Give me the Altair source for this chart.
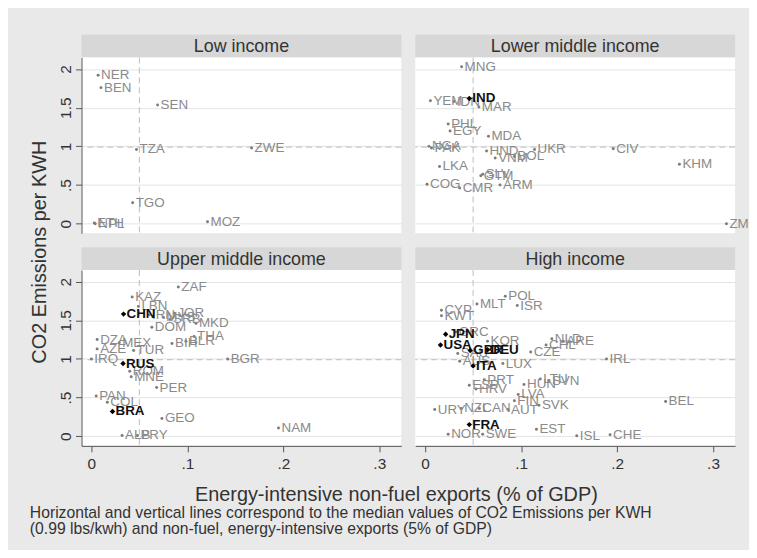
import altair as alt
import pandas as pd

# ---------------- data ----------------
low_codes = ["NER", "BEN", "SEN", "TZA", "ZWE", "TGO", "ETH", "NPL", "MOZ"]
low_x = [0.007, 0.010, 0.069, 0.047, 0.167, 0.043, 0.003, 0.004, 0.121]
low_y = [1.92, 1.76, 1.535, 0.96, 0.98, 0.27, 0.01, 0.0, 0.025]

lmi_codes = ["MNG", "YEM", "IDN", "IND", "MAR", "PHL", "EGY", "MDA", "NGA", "PAK",
             "HND", "UKR", "VNM", "BOL", "CIV", "KHM", "LKA", "GTM", "SLV", "COG",
             "CMR", "ARM", "ZMB"]
lmi_x = [0.038, 0.0055, 0.030, 0.046, 0.056, 0.024, 0.026, 0.066, 0.004, 0.0066,
         0.064, 0.114, 0.073, 0.093, 0.196, 0.265, 0.015, 0.058, 0.060, 0.002,
         0.036, 0.078, 0.314]
lmi_y = [2.03, 1.59, 1.58, 1.62, 1.51, 1.29, 1.20, 1.13, 1.00, 0.98,
         0.94, 0.96, 0.85, 0.87, 0.97, 0.77, 0.74, 0.62, 0.64, 0.51,
         0.46, 0.50, 0.0]

umi_codes = ["ZAF", "KAZ", "LBN", "CHN", "IRN", "JOR", "MYS", "SRB", "MKD", "DOM",
             "THA", "BIH", "BLR", "DZA", "AZE", "MEX", "TUR", "IRQ", "RUS", "BGR",
             "ROM", "MNE", "PER", "PAN", "COL", "BRA", "GEO", "NAM", "ALB", "PRY"]
umi_x = [0.0906, 0.0425, 0.049, 0.0335, 0.060, 0.0865, 0.075, 0.082, 0.109, 0.063,
         0.107, 0.084, 0.0985, 0.006, 0.006, 0.029, 0.044, 0.0, 0.033, 0.142,
         0.040, 0.0415, 0.068, 0.005, 0.0166, 0.022, 0.0735, 0.195, 0.032, 0.048]
umi_y = [1.93, 1.80, 1.68, 1.58, 1.57, 1.59, 1.54, 1.51, 1.46, 1.41,
         1.29, 1.20, 1.23, 1.25, 1.13, 1.21, 1.11, 1.0, 0.94, 1.0,
         0.84, 0.77, 0.63, 0.52, 0.44, 0.32, 0.23, 0.107, 0.01, 0.01]

hi_codes = ["POL", "MLT", "ISR", "CYP", "KWT", "GRC", "JPN", "KOR", "USA", "GBR",
            "DEU", "SAU", "AUS", "ITA", "LUX", "CZE", "NLD", "CHL", "ARE", "IRL",
            "PRT", "ESP", "HRV", "HUN", "LTU", "SVN", "LVA", "FIN", "SVK", "AUT",
            "URY", "NZL", "CAN", "FRA", "NOR", "SWE", "EST", "ISL", "CHE", "BEL"]
hi_x = [0.0835, 0.054, 0.096, 0.017, 0.017, 0.032, 0.0214, 0.065, 0.016, 0.047,
        0.065, 0.034, 0.036, 0.050, 0.081, 0.110, 0.132, 0.126, 0.144, 0.189,
        0.0617, 0.046, 0.053, 0.103, 0.120, 0.129, 0.097, 0.093, 0.1186, 0.0865,
        0.010, 0.0376, 0.0565, 0.046, 0.024, 0.060, 0.116, 0.158, 0.1927, 0.2506]
hi_y = [1.81, 1.71, 1.69, 1.63, 1.56, 1.35, 1.32, 1.23, 1.18, 1.11,
        1.12, 1.07, 0.97, 0.91, 0.94, 1.09, 1.26, 1.18, 1.23, 1.0,
        0.73, 0.66, 0.61, 0.67, 0.74, 0.72, 0.54, 0.46, 0.40, 0.345,
        0.345, 0.36, 0.36, 0.15, 0.025, 0.025, 0.09, 0.005, 0.02, 0.45]

highlight = ["IND", "CHN", "RUS", "BRA", "JPN", "USA", "GBR", "DEU", "ITA", "FRA"]
median_x = [0.05]
median_y = [0.99]
x_ticks = [0, 0.1, 0.2, 0.3]
y_ticks = [0, 0.5, 1, 1.5, 2]

titles = ["Low income", "Lower middle income", "Upper middle income", "High income"]
x_title = "Energy-intensive non-fuel exports (% of GDP)"
y_title = "CO2 Emissions per KWH"
note1 = "Horizontal and vertical lines correspond to the median values of CO2 Emissions per KWH"
note2 = "(0.99 lbs/kwh) and non-fuel, energy-intensive exports (5% of GDP)"

# ---------------- styling ----------------
FONT = "Liberation Sans"
W, H = 322, 177
GAP = 14
HEAD_H = 23
LEFT_W = 60
XDOM = [-0.0103, 0.323]
YDOM = [-0.125, 2.15]
BG = "#e9e9e9"
HEAD_BG = "#d7d7d7"
GRAY_PT = "#7c7c7c"
GRAY_TXT = "#8a8a8a"
TXT = "#333333"
LBL_SIZE = 13.5

xscale = alt.Scale(domain=XDOM, nice=False, zero=False)
yscale = alt.Scale(domain=YDOM, nice=False, zero=False)
one = pd.DataFrame({"a": [0]})
noview = alt.ViewBackground(strokeWidth=0)


def x_axis(bottom):
    if bottom:
        return alt.Axis(values=x_ticks, title="", grid=False, tickSize=6, format="~g",
                        labelExpr="datum.value == 0 ? '0' : replace(datum.label, '0.', '.')",
                        labelFontSize=15.5, labelPadding=5, labelFlush=False)
    return None


def y_axis(left):
    if left:
        return alt.Axis(values=y_ticks, title="", grid=True, tickSize=6, format="~g",
                        labelExpr="datum.value == 0.5 ? '.5' : datum.label",
                        labelAngle=270, labelAlign="center", labelBaseline="bottom",
                        labelFontSize=15.5, labelPadding=2)
    return alt.Axis(values=y_ticks, title="", grid=True, labels=False,
                    ticks=False, domain=False)


def blank(w, h):
    return alt.Chart(one).mark_text().encode(text=alt.value("")).properties(
        width=w, height=h, view=noview)


def header(title):
    # GAP px of background above the grey strip
    b = alt.Chart(pd.DataFrame({"t": [title]}))
    rect = b.mark_rect(color=HEAD_BG).encode(
        x=alt.value(0), x2=alt.value(W), y=alt.value(GAP), y2=alt.value(GAP + HEAD_H))
    txt = b.mark_text(fontSize=18, font=FONT, color=TXT).encode(
        x=alt.value(W / 2), y=alt.value(GAP + HEAD_H / 2 + 1), text="t:N")
    return alt.layer(rect, txt).properties(width=W, height=GAP + HEAD_H, view=noview)


def plot(codes, xs, ys, left, bottom):
    df = pd.DataFrame({"code": codes, "x": xs, "y": ys})
    df["hl"] = df["code"].isin(highlight)
    X = alt.X("x:Q", scale=xscale, axis=x_axis(bottom))
    Y = alt.Y("y:Q", scale=yscale, axis=y_axis(left))

    vline = alt.Chart(pd.DataFrame({"x": median_x})).mark_rule(
        color="#bdbdbd", strokeDash=[6, 4], strokeWidth=1).encode(x=X)
    hline = alt.Chart(pd.DataFrame({"y": median_y})).mark_rule(
        color="#bdbdbd", strokeDash=[6, 4], strokeWidth=1).encode(y=Y)

    base = alt.Chart(df).encode(x=X, y=Y)
    pts = base.transform_filter("!datum.hl").mark_circle(size=9, color=GRAY_PT, opacity=1)
    lbl = base.transform_filter("!datum.hl && datum.x <= 0.3").mark_text(
        align="left", baseline="middle", dx=3, fontSize=LBL_SIZE, font=FONT,
        color=GRAY_TXT).encode(text="code:N")
    # labels at the far right run off the picture's edge: only the first letters show
    lbl_edge = base.transform_filter("!datum.hl && datum.x > 0.3").transform_calculate(
        short="substring(datum.code, 0, 2)").mark_text(
        align="left", baseline="middle", dx=3, fontSize=LBL_SIZE, font=FONT,
        color=GRAY_TXT).encode(text="short:N")
    hpts = base.transform_filter("datum.hl").mark_point(
        shape="diamond", size=30, filled=True, color="#000000", opacity=1)
    hlbl = base.transform_filter("datum.hl").mark_text(
        align="left", baseline="middle", dx=3, fontSize=LBL_SIZE, font=FONT,
        fontWeight="bold", color="#111111").encode(text="code:N")

    return alt.layer(vline, hline, pts, lbl, lbl_edge, hpts, hlbl).properties(
        width=W, height=H, view=alt.ViewBackground(fill="white", strokeWidth=0))


# y-axis title, centred over both panel rows (local coords of row-1 cell)
ylab = alt.Chart(one).mark_text(
    angle=270, fontSize=20, font=FONT, color=TXT).encode(
    x=alt.value(32), y=alt.value(196), text=alt.value(y_title)
).properties(width=LEFT_W, height=H, view=noview)

# footer: x title and notes (local coords of the footer cell)
xt = alt.Chart(one).mark_text(fontSize=20, font=FONT, color=TXT).encode(
    x=alt.value(391), y=alt.value(50), text=alt.value(x_title))
n1 = alt.Chart(one).mark_text(align="left", fontSize=15.8, font=FONT, color=TXT).encode(
    x=alt.value(22), y=alt.value(68), text=alt.value(note1))
n2 = alt.Chart(one).mark_text(align="left", fontSize=15.8, font=FONT, color=TXT).encode(
    x=alt.value(22), y=alt.value(84), text=alt.value(note2))
footer = alt.layer(xt, n1, n2).properties(width=LEFT_W, height=103, view=noview)

cells = [
    blank(LEFT_W, GAP + HEAD_H), header(titles[0]), header(titles[1]),
    ylab, plot(low_codes, low_x, low_y, True, False), plot(lmi_codes, lmi_x, lmi_y, False, False),
    blank(LEFT_W, GAP + HEAD_H), header(titles[2]), header(titles[3]),
    blank(LEFT_W, H), plot(umi_codes, umi_x, umi_y, True, True), plot(hi_codes, hi_x, hi_y, False, True),
    footer,
]

chart = alt.concat(*cells, columns=3, spacing={"row": 0, "column": GAP},
                   bounds="flush").properties(
    padding={"left": 0, "top": 33 - 8 - GAP, "right": 0, "bottom": 0},
    background=BG,
).configure_view(strokeWidth=0).configure_axis(
    labelFont=FONT, labelColor=TXT, domainColor="#555555",
    tickColor="#555555", gridColor="#e4e4e4", gridWidth=1,
    domainWidth=1, tickWidth=1,
)

chart.save("out.html", embed_options={"renderer": "svg", "actions": False})
